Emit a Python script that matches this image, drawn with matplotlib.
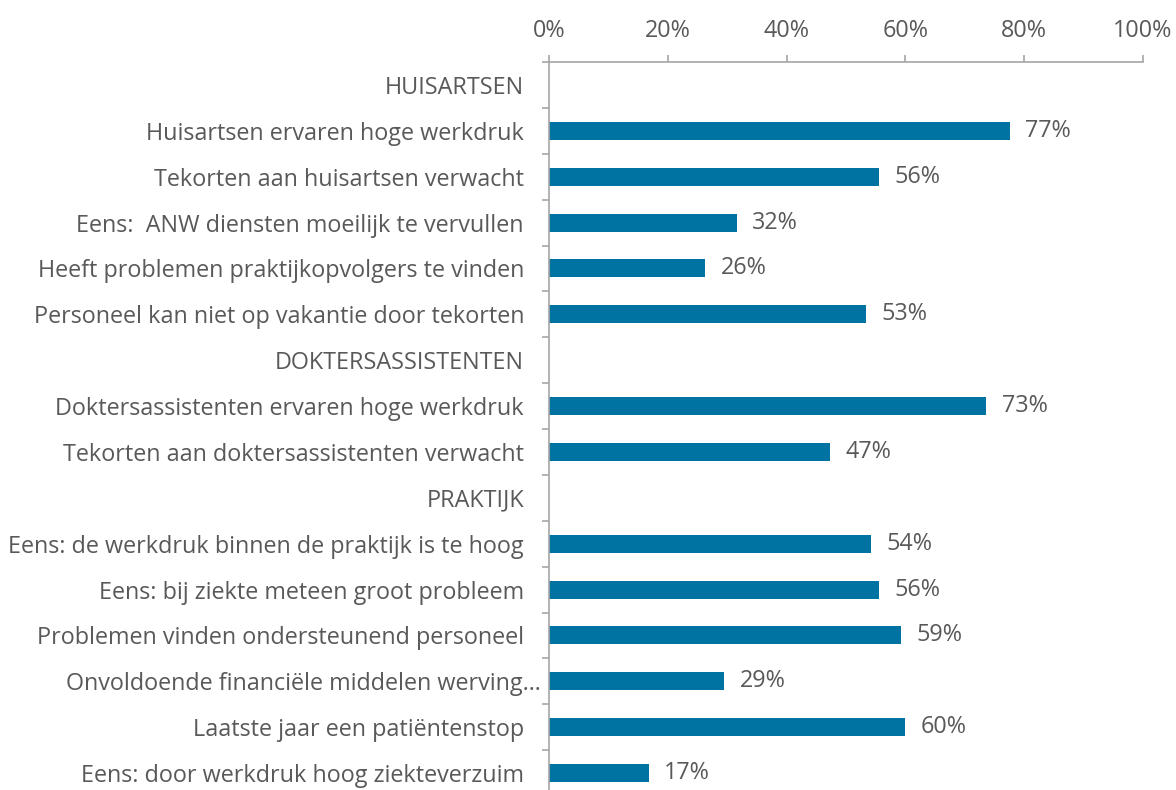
import matplotlib
matplotlib.use('Agg')
import matplotlib.pyplot as plt
import matplotlib.transforms as mtransforms
from matplotlib.ticker import FuncFormatter, MultipleLocator
import numpy as np

# --- data ---
labels = [
    'HUISARTSEN',
    'Huisartsen ervaren hoge werkdruk',
    'Tekorten aan huisartsen verwacht',
    'Eens:  ANW diensten moeilijk te vervullen',
    'Heeft problemen praktijkopvolgers te vinden',
    'Personeel kan niet op vakantie door tekorten',
    'DOKTERSASSISTENTEN',
    'Doktersassistenten ervaren hoge werkdruk',
    'Tekorten aan doktersassistenten verwacht',
    'PRAKTIJK',
    'Eens: de werkdruk binnen de praktijk is te hoog',
    'Eens: bij ziekte meteen groot probleem',
    'Problemen vinden ondersteunend personeel',
    'Onvoldoende financiële middelen werving…',
    'Laatste jaar een patiëntenstop',
    'Eens: door werkdruk hoog ziekteverzuim',
]
# None = group header without a bar
values = [None, 77.6, 55.6, 31.6, 26.3, 53.4,
          None, 73.6, 47.3,
          None, 54.2, 55.6, 59.3, 29.5, 59.9, 16.8]
value_labels = ['', '77%', '56%', '32%', '26%', '53%',
                '', '73%', '47%',
                '', '54%', '56%', '59%', '29%', '60%', '17%']

bar_color = '#0073A2'
text_color = '#595959'
axis_color = '#A6A6A6'
fs = 16.8

plt.rcParams['font.family'] = ['Open Sans', 'DejaVu Sans']

fig = plt.figure(figsize=(11.76, 7.9), dpi=100)
# axes: x from 549 to 1143 px, y from 62 px (top) down past the bottom edge
ax = fig.add_axes([549 / 1176, -6 / 790, (1143 - 549) / 1176, (790 - 62 + 6) / 790])

y = np.arange(len(labels))
for i, v in enumerate(values):
    if v is None:
        continue
    ax.barh(y[i], v, height=0.39, color=bar_color)
    ax.text(v + 2.6, y[i], value_labels[i], va='center', ha='left',
            fontsize=fs, color=text_color)

ax.set_xlim(0, 100)
ax.set_ylim(len(labels) - 0.5, -0.5)

ax.xaxis.tick_top()
ax.xaxis.set_major_locator(MultipleLocator(20))
ax.xaxis.set_major_formatter(FuncFormatter(lambda x, p: f'{x:.0f}%'))
ax.tick_params(axis='x', colors=axis_color, labelcolor=text_color,
               labelsize=fs, length=5, width=1.2, pad=9)

ax.set_yticks(y)
ax.set_yticklabels(labels)
ax.set_yticks(np.arange(-0.5, len(labels), 1), minor=True)
ax.tick_params(axis='y', which='major', length=0, labelsize=fs,
               labelcolor=text_color, pad=18)
ax.tick_params(axis='y', which='minor', length=5, width=1.2, colors=axis_color)

# truncated label sits closer to the axis
for lbl in ax.get_yticklabels():
    if lbl.get_text().endswith('…'):
        lbl.set_transform(lbl.get_transform() +
                          mtransforms.ScaledTranslation(17 / 100, 0, fig.dpi_scale_trans))

for side in ['right', 'bottom']:
    ax.spines[side].set_visible(False)
for side in ['top', 'left']:
    ax.spines[side].set_color(axis_color)
    ax.spines[side].set_linewidth(1.2)

fig.savefig('out.png', dpi=100)
